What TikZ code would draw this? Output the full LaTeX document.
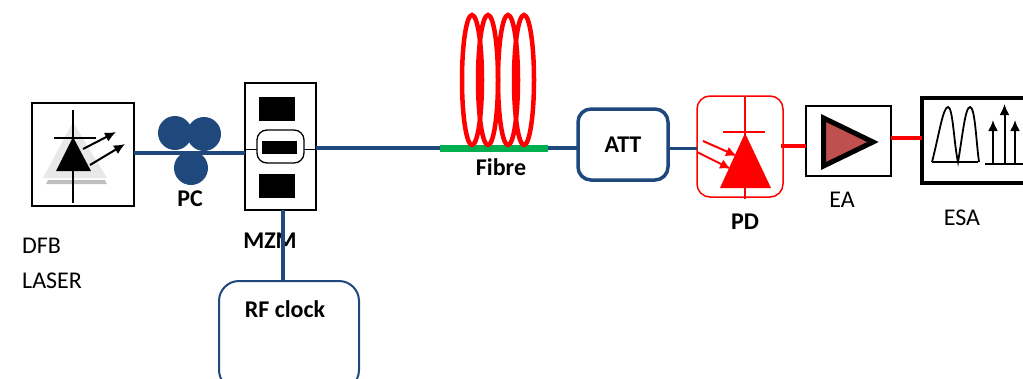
\documentclass[tikz,border=0pt]{standalone}
\usepackage{fontspec}
\setmainfont{Carlito}
\usepackage{tikz}
\usetikzlibrary{calc}
\usetikzlibrary{shapes}
\usetikzlibrary{arrows.meta}
\definecolor{fibreblue}{HTML}{1F497D}
\definecolor{fibregreen}{HTML}{00B050}
\definecolor{ampred}{HTML}{C0504D}
\tikzset{
  blackbox/.style={rectangle, draw=black, line width=1.7pt, inner sep=0pt, outer sep=0pt},
  padbox/.style={rectangle, fill=black, inner sep=0pt, outer sep=0pt},
  bluebox/.style={rectangle, rounded corners=13pt, draw=fibreblue, inner sep=0pt, outer sep=0pt},
  pcdisc/.style={circle, fill=fibreblue, minimum size=34pt, inner sep=0pt, outer sep=0pt},
  thickfibre/.style={draw=fibreblue, line width=4pt},
  thinfibre/.style={draw=fibreblue, line width=3pt},
  redwire/.style={draw=red, line width=4pt},
  beam/.style={-{Latex[length=11pt, width=10pt]}, line width=2pt},
  label/.style={font=\fontsize{24}{26}\selectfont, inner sep=0pt},
  boldlabel/.style={font=\fontsize{24}{26}\selectfont\bfseries, inner sep=0pt}
}
\begin{document}
\begin{tikzpicture}[x=1pt, y=-1pt]
\clip (0,0) rectangle (1023,378);
\fill[white] (0,0) rectangle (1023,378);
% laser
\draw (83,154.5) node[blackbox, name=laser, minimum width=102pt, minimum height=103pt]{};
\fill[black!9] (73,122) -- (107,178) -- (43,178) -- cycle;
\fill[black!25] (48,180) -- (105,180) -- (107,184) -- (46,184) -- cycle;
\draw[line width=1.2pt] (73,110) -- (73,203);
\draw[line width=1.2pt] (54,138) -- (96,138);
\fill[black] (73,137) -- (91,171) -- (56,171) -- cycle;
\draw[beam] (83,149) -- (116,132);
\draw[beam] (90,165) -- (125,144);
% polarisation controller
\draw (175,133) node[pcdisc, name=pca]{};
\draw (204,134) node[pcdisc, name=pcb]{};
\draw (191,168) node[pcdisc, name=pcc]{};
\draw (190,199) node[boldlabel, name=pclabel]{PC};
% modulator
\draw (280.5,146.5) node[blackbox, name=mzm, minimum width=71pt, minimum height=127pt]{};
\draw (277,109) node[padbox, name=padtop, minimum width=36pt, minimum height=24pt]{};
\draw (277,186) node[padbox, name=padbot, minimum width=36pt, minimum height=24pt]{};
\draw (280.5,146.5) node[rectangle, rounded corners=10pt, draw=black, line width=1.3pt, name=arm, minimum width=47pt, minimum height=33pt, inner sep=0pt, outer sep=0pt]{};
\draw (279.5,147.5) node[padbox, name=padmid, minimum width=35pt, minimum height=13pt]{};
\draw[line width=1pt] (mzm.180 |- 0,149) -- (arm.180 |- 0,149);
\draw[line width=1pt] (arm.0 |- 0,149) -- (mzm.0 |- 0,149);
\draw (270,241) node[boldlabel, name=mzmlabel]{MZM};
% rf clock
\draw (289,335.5) node[bluebox, rounded corners=20pt, line width=2pt, name=clock, minimum width=140pt, minimum height=109pt]{};
\draw (285,309) node[boldlabel, name=clocklabel]{RF clock};
\draw[thickfibre] (283,210) -- (clock.north -| 283,0);
% fibre
\coordinate (spoolin) at (440,148);
\coordinate (spoolout) at (548,148);
\draw[thickfibre] (laser.0 |- 0,153) -- (mzm.180 |- 0,153);
\draw[thickfibre] (mzm.0 |- 0,148) -- (spoolin);
\draw[draw=fibregreen, line width=7pt] (spoolin) -- (spoolout);
\foreach \x in {472,488,508,524}
  \draw[red, line width=4.5pt] (\x,80) ellipse (10 and 65);
\draw (501,167) node[boldlabel, name=fibrelabel]{Fibre};
% attenuator
\draw (623,144.5) node[bluebox, boldlabel, line width=3.5pt, name=att, minimum width=90pt, minimum height=71pt]{ATT};
\draw[thickfibre] (spoolout) -- (att.west |- spoolout);
% photodiode
\draw (740,146.5) node[rectangle, rounded corners=13pt, draw=red, line width=1.5pt, name=pd, minimum width=86pt, minimum height=101pt, inner sep=0pt, outer sep=0pt]{};
\draw[thinfibre] (att.0 |- 0,148) -- (pd.180 |- 0,148);
\draw[red, line width=1.3pt] (745,96) -- (745,199);
\draw[red, line width=1.3pt] (723,132) -- (765,132);
\fill[red] (745,133) -- (771,188) -- (720,188) -- cycle;
\draw[beam, red] (703,141) -- (737,156);
\draw[beam, red] (697,152) -- (731,169);
\draw (745,222) node[boldlabel, name=pdlabel]{PD};
% amplifier
\draw (848.5,141) node[rectangle, draw=black, line width=1.3pt, name=ea, minimum width=85pt, minimum height=70pt, inner sep=0pt, outer sep=0pt]{};
\draw[fill=ampred, draw=black, line width=5pt, miter limit=10] (823.5,118) -- (873,142) -- (823.5,166) -- cycle;
\draw[redwire] (781,146) -- (ea.180 |- 0,146);
\draw (842,200) node[label, name=ealabel]{EA};
% spectrum analyser
\draw (978,140.5) node[rectangle, draw=black, line width=4pt, name=esa, minimum width=112pt, minimum height=85pt, inner sep=0pt, outer sep=0pt]{};
\draw[redwire] (ea.0 |- 0,138) -- (esa.180 |- 0,138);
\draw[line width=1.8pt] (932,162) -- (978,162);
\draw[line width=1.8pt] (932,162) .. controls (939,135) and (943,107) .. (948,107) .. controls (953,107) and (954,145) .. (958,162) .. controls (962,140) and (965,107) .. (970,107) .. controls (975,107) and (976,140) .. (979,162);
\draw[line width=1.8pt] (985,164) -- (1023,164);
\draw[beam] (993,164) -- (993,120);
\draw[beam] (1004.5,164) -- (1004.5,104);
\draw[beam] (1015,164) -- (1015,120);
\draw (962,218) node[label, name=esalabel]{ESA};
% laser label
\draw (22,246) node[label, anchor=west, name=dfblabel]{DFB};
\draw (22,281) node[label, anchor=west, name=laserlabel]{LASER};
\end{tikzpicture}
\end{document}
